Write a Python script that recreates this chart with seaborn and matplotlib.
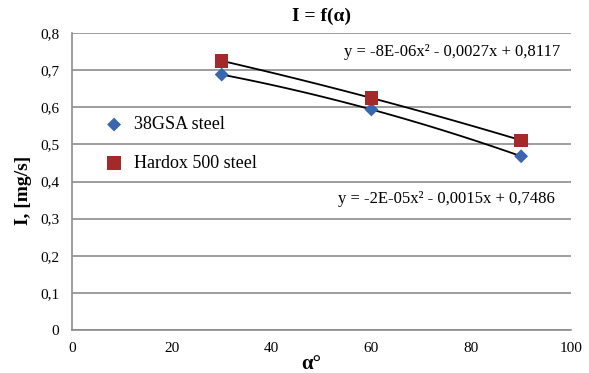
import numpy as np
import pandas as pd
import matplotlib
matplotlib.use("Agg")
import matplotlib.pyplot as plt
import seaborn as sns

# ---- data ----
angles = [30, 60, 90]
i_38gsa = [0.688, 0.594, 0.468]
i_hardox = [0.725, 0.625, 0.511]
series_names = ["38GSA steel", "Hardox 500 steel"]
eq_38gsa = "y = -2E-05x² - 0,0015x + 0,7486"
eq_hardox = "y = -8E-06x² - 0,0027x + 0,8117"
x_ticks = [0, 20, 40, 60, 80, 100]
x_ticklabels = ["0", "20", "40", "60", "80", "100"]
y_ticks = [0, 0.1, 0.2, 0.3, 0.4, 0.5, 0.6, 0.7, 0.8]
y_ticklabels = ["0", "0,1", "0,2", "0,3", "0,4", "0,5", "0,6", "0,7", "0,8"]
title = "I = f(α)"
xlabel = "α°"
ylabel = "I, [mg/s]"

sns.set_style("white")
plt.rcParams["font.family"] = ["Liberation Serif", "DejaVu Serif"]
plt.rcParams["text.color"] = "black"
plt.rcParams["axes.labelcolor"] = "black"
plt.rcParams["xtick.labelcolor"] = "black"
plt.rcParams["ytick.labelcolor"] = "black"

df = pd.DataFrame({
    "alpha": angles * 2,
    "I": i_38gsa + i_hardox,
    "steel": [series_names[0]] * 3 + [series_names[1]] * 3,
})

fig = plt.figure(figsize=(5.89, 3.73), dpi=100)
ax = fig.add_axes([72 / 589, 1 - 330 / 373, 499 / 589, 297 / 373])

colors = {series_names[0]: "#3B65AF", series_names[1]: "#A3292B"}
markers = {series_names[0]: "D", series_names[1]: "s"}
sizes = {series_names[0]: 50, series_names[1]: 95}

for name in series_names:
    sub = df[df["steel"] == name]
    sns.regplot(data=sub, x="alpha", y="I", order=2, ci=None, scatter=False,
                truncate=True, ax=ax, line_kws={"color": "black", "lw": 1.3, "zorder": 2})
for name in series_names:
    sub = df[df["steel"] == name]
    sns.scatterplot(data=sub, x="alpha", y="I", marker=markers[name], color=colors[name],
                    s=sizes[name], edgecolor="none", ax=ax, label=name, zorder=3)

ax.set_xlim(0, 100)
ax.set_ylim(0, 0.8)
ax.set_xticks(x_ticks)
ax.set_xticklabels(x_ticklabels, fontsize=11)
ax.set_yticks(y_ticks)
ax.set_yticklabels(y_ticklabels, fontsize=11)
ax.yaxis.grid(True, color="#8C8C8C", lw=1.2)
ax.set_axisbelow(True)
for s in ["top", "right"]:
    ax.spines[s].set_visible(False)
for s in ["left", "bottom"]:
    ax.spines[s].set_color("#8C8C8C")
    ax.spines[s].set_linewidth(1.2)
ax.tick_params(axis="y", length=5, color="#8C8C8C", width=1.2, pad=4, labelcolor="black")
ax.tick_params(axis="x", length=0, pad=9, labelcolor="black")

ax.set_title(title, fontsize=14, fontweight="bold", pad=9, color="black")
ax.set_xlabel(xlabel, fontsize=15, fontweight="bold", color="black")
ax.xaxis.set_label_coords(0.479, -0.082)
ax.set_ylabel(ylabel, fontsize=14, fontweight="bold", color="black")
ax.yaxis.set_label_coords(-0.08, 0.47)

ax.text(0.978, 0.936, eq_hardox, transform=ax.transAxes, ha="right", va="center", fontsize=12, color="black")
ax.text(0.968, 0.441, eq_38gsa, transform=ax.transAxes, ha="right", va="center", fontsize=12, color="black")

leg = ax.legend(loc="upper left", bbox_to_anchor=(0.03, 0.75), frameon=False, fontsize=13,
                labelspacing=1.2, handletextpad=0.1, borderpad=0)
for t in leg.get_texts():
    t.set_color("black")

fig.savefig("out.png", dpi=100)
